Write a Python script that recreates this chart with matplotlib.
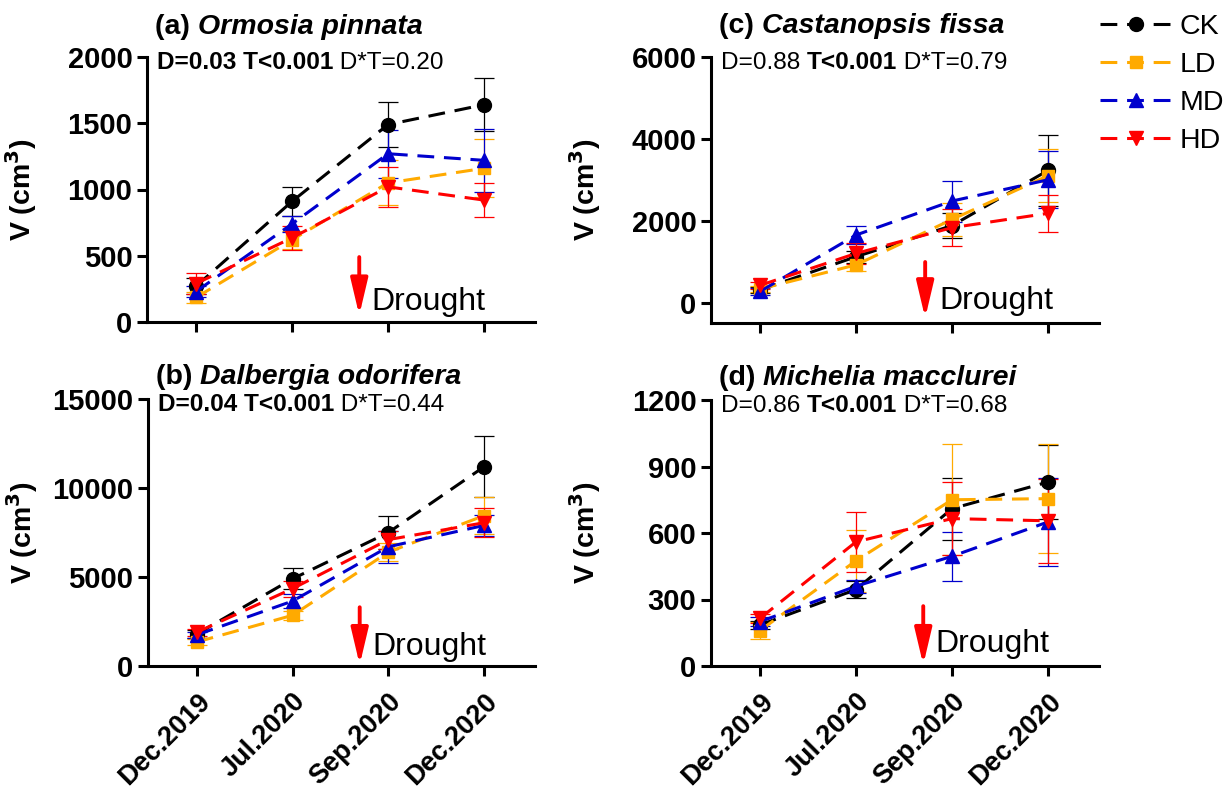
import matplotlib
matplotlib.use('Agg')
import matplotlib.pyplot as plt
import matplotlib.transforms as mtrans
from matplotlib.lines import Line2D

plt.rcParams['font.family'] = ['Liberation Sans', 'DejaVu Sans']

# ---- data ----
dates = ['Dec.2019', 'Jul.2020', 'Sep.2020', 'Dec.2020']
groups = ['CK', 'LD', 'MD', 'HD']
colors = {'CK': '#000000', 'LD': '#FFAA00', 'MD': '#0000CD', 'HD': '#FF0000'}
markers = {'CK': 'o', 'LD': 's', 'MD': '^', 'HD': 'v'}
msizes = {'CK': 10, 'LD': 8.5, 'MD': 10.5, 'HD': 10.5}

# (a) Ormosia pinnata
orm_mean = {'CK': [270, 910, 1490, 1640], 'LD': [185, 620, 1050, 1160],
            'MD': [230, 740, 1270, 1220], 'HD': [290, 635, 1020, 920]}
orm_se = {'CK': [60, 110, 170, 200], 'LD': [40, 70, 170, 220],
          'MD': [40, 60, 180, 240], 'HD': [80, 90, 150, 130]}
# (b) Dalbergia odorifera
dal_mean = {'CK': [1800, 4900, 7500, 11200], 'LD': [1350, 2850, 6400, 8450],
            'MD': [1750, 3650, 6700, 7900], 'HD': [1900, 4350, 7100, 8050]}
dal_se = {'CK': [200, 600, 900, 1700], 'LD': [150, 250, 500, 1050],
          'MD': [150, 400, 900, 600], 'HD': [200, 450, 500, 800]}
# (c) Castanopsis fissa
cas_mean = {'CK': [310, 1120, 1880, 3230], 'LD': [330, 920, 2030, 3100],
            'MD': [270, 1650, 2480, 3000], 'HD': [420, 1200, 1830, 2180]}
cas_se = {'CK': [80, 150, 300, 870], 'LD': [80, 150, 400, 650],
          'MD': [80, 220, 500, 700], 'HD': [80, 250, 450, 450]}
# (d) Michelia macclurei
mic_mean = {'CK': [185, 345, 710, 830], 'LD': [160, 475, 750, 755],
            'MD': [200, 360, 495, 650], 'HD': [215, 560, 665, 655]}
mic_se = {'CK': [20, 40, 140, 165], 'LD': [40, 140, 250, 245],
          'MD': [20, 30, 110, 200], 'HD': [20, 135, 165, 190]}

panels = [
    # label, species, means, se, ylim, yticks, stats pieces, arrow (x, y0, y1), drought text (x, y)
    ('(a) ', 'Ormosia pinnata', orm_mean, orm_se, (0, 2000), [0, 500, 1000, 1500, 2000],
     [('D=0.03 T<0.001', 'bold'), (' D*T=0.20', 'normal')], (1.70, 490, 50), (1.83, 90)),
    ('(b) ', 'Dalbergia odorifera', dal_mean, dal_se, (0, 15000), [0, 5000, 10000, 15000],
     [('D=0.04 T<0.001', 'bold'), (' D*T=0.44', 'normal')], (1.70, 3300, 60), (1.83, 620)),
    ('(c) ', 'Castanopsis fissa', cas_mean, cas_se, (-500, 6000), [0, 2000, 4000, 6000],
     [('D=0.88 ', 'normal'), ('T<0.001', 'bold'), (' D*T=0.79', 'normal')], (1.72, 990, -380), (1.87, -150)),
    ('(d) ', 'Michelia macclurei', mic_mean, mic_se, (0, 1200), [0, 300, 600, 900, 1200],
     [('D=0.86 ', 'normal'), ('T<0.001', 'bold'), (' D*T=0.68', 'normal')], (1.70, 270, 5), (1.83, 62)),
]

rects = [
    [147 / 1226, 470 / 792, 388 / 1226, 265 / 792],
    [148 / 1226, 126 / 792, 387 / 1226, 267 / 792],
    [711 / 1226, 469 / 792, 388 / 1226, 266 / 792],
    [711 / 1226, 126 / 792, 388 / 1226, 266 / 792],
]
title_y = [1.087, 1.056, 1.09, 1.056]
bottom_row = [False, True, False, True]

fig = plt.figure(figsize=(12.26, 7.92), dpi=100)
dash = (0, (5.5, 3.2))
x = list(range(len(dates)))

def chain_text(ax, x0, y0, pieces, size):
    prev = None
    for txt, weight, style in pieces:
        if prev is None:
            prev = ax.text(x0, y0, txt, transform=ax.transAxes, fontsize=size,
                           fontweight=weight, fontstyle=style, ha='left', va='baseline')
        else:
            prev = ax.annotate(txt, xy=(1, 0), xycoords=prev, fontsize=size,
                               fontweight=weight, fontstyle=style, ha='left', va='bottom')

shift = mtrans.ScaledTranslation(4 / 100, 0, fig.dpi_scale_trans)

for i, (lab, sp, mean, se, ylim, yt, stats, arr, dtxt) in enumerate(panels):
    ax = fig.add_axes(rects[i])
    for g in groups:
        ax.errorbar(x, mean[g], yerr=se[g], color=colors[g], linestyle=dash, lw=2.2,
                    marker=markers[g], ms=msizes[g], ecolor=colors[g], elinewidth=0.9,
                    capsize=7, capthick=0.9, zorder=3)
    ax.set_xlim(-0.51, 3.53)
    ax.set_ylim(*ylim)
    ax.set_yticks(yt)
    ax.set_xticks(x)
    if bottom_row[i]:
        ax.set_xticklabels(dates, rotation=45, ha='right', rotation_mode='anchor',
                           fontweight='bold', fontsize=19.5)
        for t in ax.get_xticklabels():
            t.set_transform(t.get_transform() + shift)
    else:
        ax.set_xticklabels([])
    for s in ['top', 'right']:
        ax.spines[s].set_visible(False)
    for s in ['left', 'bottom']:
        ax.spines[s].set_linewidth(2.2)
    ax.tick_params(axis='both', direction='out', length=7, width=2.2)
    ax.tick_params(axis='y', labelsize=21)
    ax.tick_params(axis='x', pad=9)
    for t in ax.get_yticklabels():
        t.set_fontweight('bold')
    ax.set_ylabel('V (cm$^\\mathbf{3}$)', fontsize=20.5, fontweight='bold')
    ax.yaxis.set_label_coords(-0.278, 0.5)

    chain_text(ax, 0.02, title_y[i], [(lab, 'bold', 'normal'), (sp, 'bold', 'italic')], 20.5)
    chain_text(ax, 0.025, 0.955, [(p[0], p[1], 'normal') for p in stats], 17.6)

    ax.annotate('', xy=(arr[0], arr[2]), xytext=(arr[0], arr[1]),
                arrowprops=dict(arrowstyle='-|>,head_length=1.1,head_width=0.26',
                                color='#FF0000', lw=2.8, mutation_scale=20, shrinkA=0, shrinkB=0))
    ax.text(dtxt[0], dtxt[1], 'Drought', fontsize=23, ha='left', va='baseline')

handles = [Line2D([], [], color=colors[g], linestyle=dash, lw=2.2, marker=markers[g],
                  ms=msizes[g]) for g in groups]
fig.legend(handles, groups, loc='upper left', bbox_to_anchor=(1100 / 1226, 1 - 14 / 792),
           frameon=False, fontsize=20.5, handlelength=2.5, handletextpad=0.3,
           labelspacing=0.42, borderpad=0, borderaxespad=0)

fig.savefig('out.png', dpi=100)
